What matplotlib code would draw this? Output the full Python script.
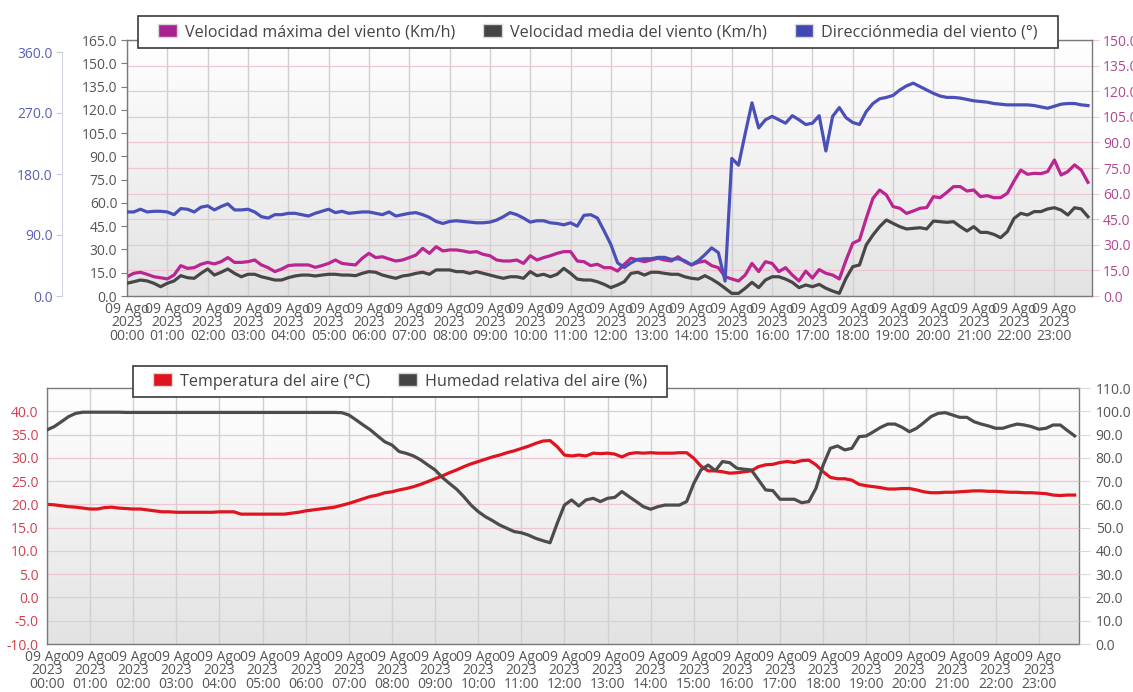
import matplotlib
matplotlib.use("Agg")
import matplotlib.pyplot as plt
import numpy as np
import pandas as pd
from matplotlib.colors import LinearSegmentedColormap
from matplotlib.patches import Patch, Rectangle
from matplotlib.ticker import FormatStrFormatter

plt.rcParams["font.family"] = ["Open Sans", "DejaVu Sans"]

# 10-minute samples, 09 Aug 2023
times = pd.date_range("2023-08-09 00:00", periods=144, freq="10min").to_numpy()

wind_dir = [
    124, 124, 128, 124, 125, 125, 124, 120, 129, 128, 124, 131, 133, 127, 132, 136, 127, 127, 128, 124,
    117, 115, 120, 120, 122, 122, 120, 118, 122, 125, 128, 123, 125, 122, 123, 124, 124, 122, 120, 124,
    118, 120, 122, 123, 120, 116, 110, 107,
    110, 111, 110, 109, 108, 108, 109, 112, 117, 123, 120, 115, 109, 111, 111, 108, 107, 105, 108, 103,
    119, 120, 115, 96, 76, 49, 42, 49, 54, 55, 55, 57, 57, 54, 55, 52, 46, 52, 61, 71,
    64, 22, 203, 193, 240, 285, 248, 260,
    265, 260, 255, 266, 260, 253, 255, 266, 214, 265, 278, 263, 256, 253, 272, 284, 291, 293, 296, 304,
    310, 314, 309, 304, 299, 295, 293, 293, 292, 290, 288, 287, 286, 284, 283, 282, 282, 282, 282, 281,
    279, 277, 280, 283, 284, 284, 282, 281,
]
wind_max = [
    11.3, 13.3, 13.9, 12.7, 11.3, 10.7, 10.0, 12.3, 17.8, 16.2, 16.6, 18.6, 19.7, 18.8, 20.1, 22.5,
    19.7, 19.7, 20.1, 21.1, 18.2, 16.6, 14.3, 15.8, 17.8, 18.2, 18.2, 18.2, 16.8, 17.8, 19.1, 21.1,
    19.1, 18.6, 18.2, 22.1, 25.0, 22.5, 23.0, 21.7, 20.5, 21.1, 22.5, 24.0, 27.9, 25.0, 28.9, 26.4,
    27.0, 27.0, 26.4, 25.6, 26.0, 24.4, 23.6, 21.1, 20.5, 20.5, 21.1, 19.1, 23.6, 21.1, 22.5, 23.6,
    25.0, 26.0, 26.0, 20.5, 20.1, 17.8, 18.6, 16.6, 16.6, 14.6, 18.6, 22.1, 21.1, 20.1, 21.1, 22.1,
    21.1, 20.5, 23.0, 20.1, 18.2, 19.7, 20.5, 17.8, 16.6, 11.3, 10.0, 8.8, 12.3, 19.1, 14.3, 20.1,
    19.1, 14.3, 16.6, 12.3, 8.8, 14.6, 10.5, 15.5, 13.3, 12.3, 10.0, 21.0, 30.9, 32.8, 45.5, 57.2,
    62.1, 59.2, 52.4, 51.4, 48.4, 49.8, 51.4, 51.8, 58.2, 57.6, 60.7, 64.1, 64.1, 61.5, 62.1, 58.2,
    58.8, 57.6, 57.6, 60.2, 67.4, 73.8, 71.3, 71.9, 71.7, 72.9, 79.7, 70.9, 72.9, 76.8, 73.8, 66.6,
]
wind_mean = [
    8.2, 9.2, 10.3, 9.7, 8.2, 6.0, 8.2, 9.7, 13.1, 11.8, 11.4, 14.6, 17.4, 13.5, 15.3, 17.4,
    14.6, 12.4, 14.0, 14.0, 12.4, 11.4, 10.3, 10.3, 11.8, 12.9, 13.5, 13.5, 12.9, 13.5, 14.0, 14.0,
    13.5, 13.5, 13.1, 14.6, 15.7, 15.3, 13.5, 12.4, 11.4, 12.9, 13.5, 14.6, 15.3, 14.0, 16.8, 16.8,
    16.8, 15.7, 15.7, 14.6, 15.7, 14.6, 13.5, 12.4, 11.4, 12.4, 12.4, 11.4, 15.7, 13.1, 14.0, 12.4,
    14.0, 17.8, 14.6, 10.9, 10.3, 10.3, 9.2, 7.5, 5.4, 7.1, 9.2, 14.6, 15.3, 13.5, 15.3, 15.3,
    14.6, 14.0, 14.0, 12.4, 11.4, 10.9, 13.1, 10.9, 8.2, 5.0, 1.7, 1.7, 5.0, 8.8, 5.4, 10.3,
    12.4, 12.4, 10.9, 8.8, 5.4, 7.1, 6.0, 7.5, 5.0, 3.2, 1.7, 11.4, 18.9, 20.0, 32.9, 39.3,
    44.7, 49.0, 46.8, 44.7, 43.2, 43.6, 44.0, 43.2, 48.3, 47.9, 47.5, 47.9, 44.7, 41.9, 44.7, 41.0,
    41.0, 39.7, 37.6, 41.5, 50.0, 53.3, 52.2, 54.4, 54.4, 56.1, 56.9, 55.4, 52.2, 56.9, 56.1, 51.1,
]
air_temp = [
    20.0, 19.9, 19.7, 19.5, 19.4, 19.2, 19.0, 19.0, 19.3, 19.4, 19.2, 19.1, 19.0, 19.0, 18.8, 18.6,
    18.4, 18.4, 18.3, 18.3, 18.3, 18.3, 18.3, 18.3, 18.4, 18.4, 18.4, 17.9, 17.9, 17.9, 17.9, 17.9,
    17.9, 17.9, 18.1, 18.3, 18.6, 18.8, 19.0, 19.2, 19.4, 19.8, 20.2, 20.7, 21.2, 21.7, 22.0, 22.5,
    22.7, 23.1, 23.4, 23.8, 24.3, 24.9, 25.5, 26.1, 26.8, 27.4, 28.1, 28.7, 29.2, 29.7, 30.2, 30.6,
    31.1, 31.5, 32.0, 32.5, 33.1, 33.6, 33.7, 32.4, 30.6, 30.4, 30.6, 30.4, 31.0, 30.9, 31.0, 30.8,
    30.2, 30.9, 31.1, 31.0, 31.1, 31.0, 31.0, 31.0, 31.1, 31.1, 29.9, 28.2, 27.2, 27.2, 27.0, 26.7,
    26.8, 27.0, 27.2, 28.1, 28.5, 28.6, 29.0, 29.2, 29.0, 29.4, 29.5, 28.5, 27.0, 25.8, 25.5, 25.5,
    25.2, 24.3, 24.0, 23.8, 23.6, 23.3, 23.3, 23.4, 23.4, 23.1, 22.7, 22.5, 22.5, 22.6, 22.6, 22.7,
    22.8, 22.9, 22.9, 22.8, 22.8, 22.7, 22.6, 22.6, 22.5, 22.5, 22.4, 22.3, 22.0, 21.9, 22.0, 22.0,
]
humidity = [
    92.0, 93.4, 95.5, 97.7, 99.1, 99.6, 99.6, 99.6, 99.6, 99.6, 99.6, 99.5, 99.5, 99.5, 99.5, 99.5,
    99.5, 99.5, 99.5, 99.5, 99.5, 99.5, 99.5, 99.5, 99.5, 99.5, 99.5, 99.5, 99.5, 99.5, 99.5, 99.5,
    99.5, 99.5, 99.5, 99.5, 99.5, 99.5, 99.5, 99.5, 99.5, 99.4, 98.4, 96.3, 94.1, 92.0, 89.4, 86.9,
    85.5, 82.7, 81.9, 80.8, 79.1, 76.9, 74.8, 71.6, 69.0, 66.5, 63.3, 59.7, 56.9, 54.7, 53.0, 51.1,
    49.7, 48.3, 47.8, 46.8, 45.4, 44.4, 43.5, 51.9, 59.7, 61.9, 59.3, 61.9, 62.6, 61.2, 62.6, 63.0,
    65.5, 63.3, 61.2, 59.0, 57.9, 59.0, 59.7, 59.7, 59.7, 61.2, 69.0, 74.8, 76.9, 74.5, 78.4, 77.9,
    75.5, 75.1, 74.8, 70.5, 66.2, 65.9, 62.2, 62.2, 62.2, 60.7, 61.2, 66.9, 76.9, 84.1, 85.1, 83.4,
    84.1, 89.1, 89.4, 91.2, 93.1, 94.5, 94.5, 93.1, 91.2, 92.7, 95.1, 97.7, 99.1, 99.4, 98.4, 97.4,
    97.4, 95.5, 94.5, 93.7, 92.7, 92.7, 93.7, 94.5, 94.1, 93.4, 92.3, 92.7, 94.1, 94.1, 91.7, 89.4,
]

hour_ticks = pd.date_range("2023-08-09 00:00", periods=24, freq="h")
tick_labels = [f"{t:%d} Ago\n{t:%Y}\n{t:%H:%M}" for t in hour_ticks]
x_start = np.datetime64("2023-08-09T00:00")
x_end = np.datetime64("2023-08-09T23:56")

W, H = 1133, 692
FRAME = "#7a7a7a"
PINK = "#eec6d2"
VGRID = "#d0d0d0"
bg_cmap = LinearSegmentedColormap.from_list("bg", ["#e3e3e3", "#ffffff"])


def style_host(ax):
    ax.imshow(np.linspace(1, 0, 256).reshape(-1, 1), cmap=bg_cmap, aspect="auto",
              extent=[0, 1, 0, 1], transform=ax.transAxes, zorder=-5)
    ax.set_axisbelow(True)
    ax.grid(axis="y", color=PINK, lw=0.9)
    ax.grid(axis="x", color=VGRID, lw=1.0)
    ax.set_xticks(hour_ticks.to_numpy())
    ax.set_xticklabels(tick_labels, fontsize=10, color="#555555", linespacing=0.9)
    ax.tick_params(axis="x", length=0, pad=4)
    ax.set_xlim(x_start, x_end)
    for sp in ax.spines.values():
        sp.set_color(FRAME)
        sp.set_linewidth(1.0)


def hide_spines(ax, keep=()):
    for name, sp in ax.spines.items():
        sp.set_visible(name in keep)


def legend_box(handles, labels, x0, y0, x1, y1):
    # white framed box in pixel coords (top-left origin), legend centred in it
    fig.add_artist(Rectangle((x0 / W, 1 - y1 / H), (x1 - x0) / W, (y1 - y0) / H,
                             transform=fig.transFigure, facecolor="white",
                             edgecolor="#3a3a3a", lw=1.2, zorder=4))
    fig.legend(handles, labels, loc="center",
               bbox_to_anchor=((x0 + x1) / 2 / W, 1 - (y0 + y1) / 2 / H),
               ncol=len(labels), fontsize=11.6, frameon=False, handlelength=1.15,
               handleheight=0.85, handletextpad=0.5, columnspacing=1.75,
               labelcolor="#444444").set_zorder(5)


fig = plt.figure(figsize=(W / 100, H / 100), dpi=100)

# ---- top chart: wind
ax_max = fig.add_axes([127 / W, 1 - 296 / H, 965 / W, 256 / H])
style_host(ax_max)
ax_mean = ax_max.twinx()
ax_dir = ax_max.twinx()

ax_max.yaxis.tick_right()
ax_max.set_ylim(0, 150)
ax_max.set_yticks(np.arange(0, 151, 15))
ax_max.yaxis.set_major_formatter(FormatStrFormatter("%.1f"))
ax_max.tick_params(axis="y", labelsize=10, labelcolor="#b0488f", color=PINK, length=5, pad=3)

ax_mean.yaxis.tick_left()
ax_mean.set_ylim(0, 165)
ax_mean.set_yticks(np.arange(0, 166, 15))
ax_mean.yaxis.set_major_formatter(FormatStrFormatter("%.1f"))
ax_mean.tick_params(axis="y", labelsize=10, labelcolor="#555555", color=FRAME, length=4, pad=3)
hide_spines(ax_mean)

ax_dir.yaxis.tick_left()
ax_dir.spines["left"].set_position(("axes", -0.067))
ax_dir.set_ylim(0, 360 * 256 / 244)
ax_dir.set_yticks(np.arange(0, 361, 90))
ax_dir.yaxis.set_major_formatter(FormatStrFormatter("%.1f"))
ax_dir.tick_params(axis="y", labelsize=10, labelcolor="#5a5fb5", color="#c8c8dc", length=4, pad=3)
hide_spines(ax_dir, keep=("left",))
ax_dir.spines["left"].set_color("#d4d4e4")
ax_dir.spines["left"].set_bounds(0, 360)

ax_max.plot(times, wind_max, color="#bb2491", lw=2.3, solid_joinstyle="round")
ax_mean.plot(times, wind_mean, color="#474747", lw=2.3, solid_joinstyle="round")
ax_dir.plot(times, wind_dir, color="#4a50b8", lw=2.3, solid_joinstyle="round")
for a in (ax_mean, ax_dir):
    a.set_xlim(x_start, x_end)

legend_box([Patch(facecolor="#a8238f", edgecolor="#d8d8d8"),
            Patch(facecolor="#444444", edgecolor="#d8d8d8"),
            Patch(facecolor="#4248b0", edgecolor="#d8d8d8")],
           ["Velocidad máxima del viento (Km/h)", "Velocidad media del viento (Km/h)",
            "Direcciónmedia del viento (°)"],
           138, 16, 1058, 48)

# ---- bottom chart: temperature and humidity
ax_temp = fig.add_axes([47 / W, 1 - 644 / H, 1032 / W, 256 / H])
style_host(ax_temp)
ax_hum = ax_temp.twinx()

ax_temp.yaxis.tick_left()
ax_temp.set_ylim(-10, 45)
ax_temp.set_yticks(np.arange(-10, 41, 5))
ax_temp.yaxis.set_major_formatter(FormatStrFormatter("%.1f"))
ax_temp.tick_params(axis="y", labelsize=10, labelcolor="#d2404e", color=PINK, length=0, pad=6)

ax_hum.set_ylim(0, 110)
ax_hum.set_yticks(np.arange(0, 111, 10))
ax_hum.yaxis.set_major_formatter(FormatStrFormatter("%.1f"))
ax_hum.tick_params(axis="y", labelsize=10, labelcolor="#555555", color="#d8d8d8", length=8, pad=4)
hide_spines(ax_hum)
ax_hum.set_xlim(x_start, x_end)

ax_temp.plot(times, air_temp, color="#e0141e", lw=2.3, solid_joinstyle="round")
ax_hum.plot(times, humidity, color="#4c4c4c", lw=2.3, solid_joinstyle="round")

legend_box([Patch(facecolor="#e0141e", edgecolor="#d8d8d8"),
            Patch(facecolor="#444444", edgecolor="#d8d8d8")],
           ["Temperatura del aire (°C)", "Humedad relativa del aire (%)"],
           133, 366, 667, 397)

fig.savefig("out.png", dpi=100)
